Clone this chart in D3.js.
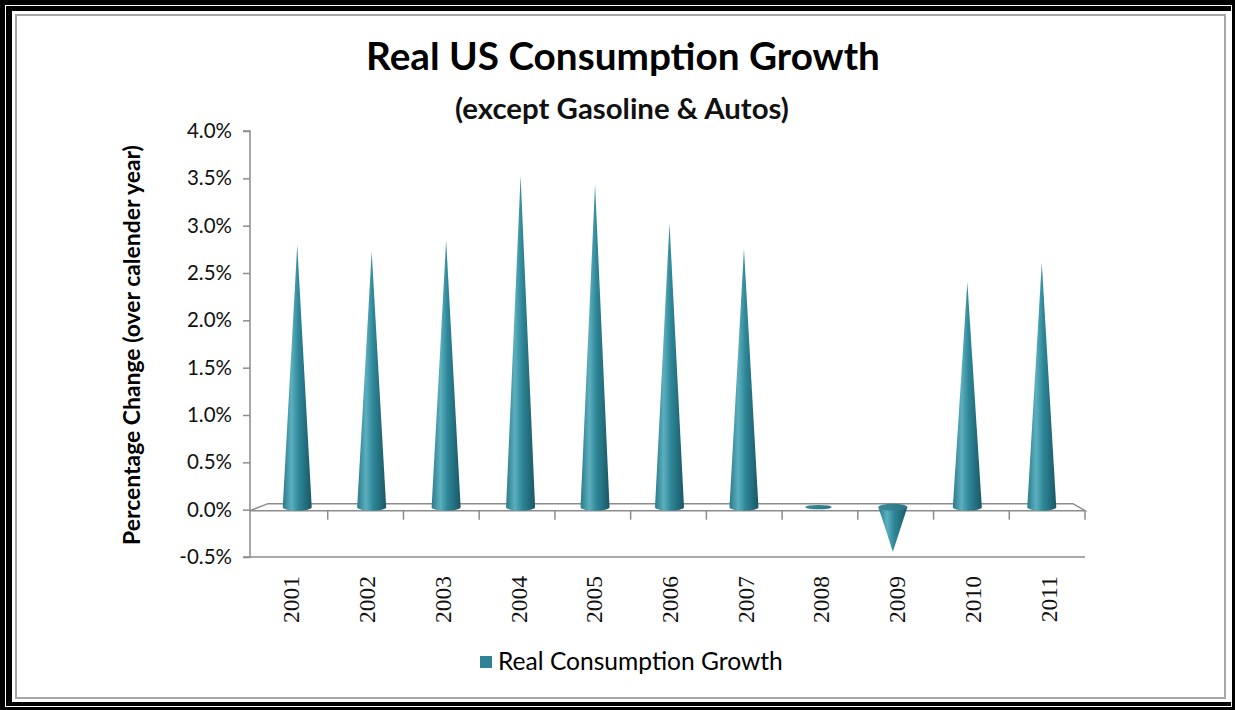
<!DOCTYPE html>
<html><head><meta charset="utf-8">
<script src="https://cdn.jsdelivr.net/npm/d3@7"></script>
<style>html,body{margin:0;padding:0;background:#fff;}svg{display:block;}</style>
</head><body>
<svg id="chart" width="1235" height="710"></svg>
<script>
const categories = ["2001","2002","2003","2004","2005","2006","2007","2008","2009","2010","2011"];
const values = [2.77, 2.7, 2.82, 3.5, 3.41, 3.0, 2.73, -0.02, -0.47, 2.38, 2.58];
const yTicks = [-0.5, 0, 0.5, 1, 1.5, 2, 2.5, 3, 3.5, 4];
const seriesName = "Real Consumption Growth";
const titleText = "Real US Consumption Growth";
const subtitleText = "(except Gasoline & Autos)";
const yTitleText = "Percentage Change (over calender year)";

const svg = d3.select("#chart");
const W = 1235, H = 710;

// frame
svg.append("rect").attr("width", W).attr("height", H).attr("fill", "#000");
svg.append("rect").attr("x", 5.5).attr("y", 5.5).attr("width", W - 9).attr("height", H - 9)
  .attr("fill", "none").attr("stroke", "#fff").attr("stroke-width", 1);
svg.append("rect").attr("x", 12).attr("y", 11).attr("width", 1219).attr("height", 691).attr("fill", "#fff");
svg.append("rect").attr("x", 16).attr("y", 15).attr("width", 1209).attr("height", 683)
  .attr("fill", "none").attr("stroke", "#a8a8a8").attr("stroke-width", 2);

// gradients
const defs = svg.append("defs");
const g1 = defs.append("linearGradient").attr("id", "coneGrad").attr("x1", "0").attr("x2", "1").attr("y1", "0").attr("y2", "0");
[[0, "#2a7b8a"], [0.3, "#5cafbe"], [0.55, "#2e8798"], [1, "#1a5765"]].forEach(([o, c]) =>
  g1.append("stop").attr("offset", o).attr("stop-color", c));
const g2 = defs.append("linearGradient").attr("id", "topGrad").attr("x1", "0").attr("x2", "1");
[[0, "#3a8c9b"], [1, "#2a7483"]].forEach(([o, c]) => g2.append("stop").attr("offset", o).attr("stop-color", c));

// scales
const x0 = 252, x1 = 1085;          // front floor edge
const depth = {dx: 16, dy: -7};      // back floor offset
const xFront = d3.scaleBand().domain(categories).range([x0, x1]);
const xBack = d3.scaleBand().domain(categories).range([x0 + depth.dx, x1 - 12]);
const y = d3.scaleLinear().domain([-0.5, 4]).range([557, 131]);
const axisColor = "#8c8c8c";

// y axis
const yAxisG = svg.append("g").attr("transform", `translate(${x0 - 2},0)`)
  .call(d3.axisLeft(y).tickValues(yTicks).tickSize(7).tickPadding(11).tickFormat(d => d.toFixed(1) + "%"));
yAxisG.select(".domain").attr("stroke", axisColor).attr("stroke-width", 1.5).attr("d", `M-7,${y(4)}H0V${y(-0.5)}H-7`);
yAxisG.selectAll(".tick line").attr("stroke", axisColor).attr("stroke-width", 1.5);
yAxisG.selectAll(".tick text").attr("font-family", "Lato, 'Open Sans', sans-serif").attr("font-size", 20.5).attr("fill", "#111");

// bottom line at -0.5
svg.append("line").attr("x1", x0 - 2).attr("x2", x1).attr("y1", y(-0.5)).attr("y2", y(-0.5))
  .attr("stroke", axisColor).attr("stroke-width", 1.5);

// floor at 0
const y0 = y(0) + 1;
svg.append("path")
  .attr("d", `M${x0 - 2},${y0}L${x0 + depth.dx},${y0 + depth.dy}L${x1 - 12},${y0 + depth.dy}L${x1},${y0}Z`)
  .attr("fill", "#fff").attr("stroke", axisColor).attr("stroke-width", 1.5);

// x ticks
const xAxisG = svg.append("g").attr("transform", `translate(0,${y0})`)
  .call(d3.axisBottom(xFront).tickSize(9).tickFormat(""));
xAxisG.select(".domain").remove();
xAxisG.selectAll(".tick").attr("transform", d => `translate(${xFront(d) + xFront.bandwidth()},0)`);
xAxisG.selectAll(".tick line").attr("stroke", axisColor).attr("stroke-width", 1.5);

// x labels
svg.append("g").selectAll("text").data(categories).join("text")
  .attr("transform", d => `translate(${xFront(d) + xFront.bandwidth() / 2 + 1},576) rotate(-90)`)
  .attr("text-anchor", "end").attr("dy", "0.36em")
  .attr("font-family", "'Liberation Serif', 'Times New Roman', serif").attr("font-size", 23.5).attr("fill", "#111")
  .text(d => d);

// cones
const rx = 14.5, ry = 3.5;
const coneX = d => ((xFront(d) + xFront.bandwidth() / 2) + (xBack(d) + xBack.bandwidth() / 2)) / 2;
const yMid = v => y(v) + 1 + depth.dy / 2;
const cones = svg.append("g");
categories.forEach((c, i) => {
  const v = values[i];
  const cx = coneX(c), base = yMid(0), tip = yMid(v);
  if (v >= 0) {
    cones.append("path")
      .attr("d", `M${cx - rx},${base}L${cx},${tip}L${cx + rx},${base}A${rx},${ry} 0 0 1 ${cx - rx},${base}Z`)
      .attr("fill", "url(#coneGrad)");
  } else {
    const small = (tip - base) < 4;
    const r = small ? rx - 1.5 : rx, rr = small ? 2.2 : ry;
    const t = Math.max(tip, base + 1.5);
    cones.append("path")
      .attr("d", `M${cx - r},${base}L${cx},${t}L${cx + r},${base}Z`)
      .attr("fill", "url(#coneGrad)");
    cones.append("ellipse").attr("cx", cx).attr("cy", base).attr("rx", r).attr("ry", rr)
      .attr("fill", "url(#topGrad)");
  }
});

// fit helper
function fit(sel, width) {
  const w = sel.node().getComputedTextLength();
  const fs = parseFloat(sel.attr("font-size"));
  sel.attr("font-size", fs * width / w);
}

// titles
const title = svg.append("text").attr("x", 623).attr("y", 70).attr("text-anchor", "middle")
  .attr("font-family", "Lato, 'Open Sans', sans-serif").attr("font-weight", "bold").attr("font-size", 34)
  .attr("fill", "#000").text(titleText);
fit(title, 514);
const sub = svg.append("text").attr("x", 622).attr("y", 119).attr("text-anchor", "middle")
  .attr("font-family", "Lato, 'Open Sans', sans-serif").attr("font-weight", "bold").attr("font-size", 22)
  .attr("fill", "#111").text(subtitleText);
fit(sub, 334);
const yt = svg.append("text").attr("transform", "translate(140,345) rotate(-90)").attr("text-anchor", "middle")
  .attr("font-family", "Lato, 'Open Sans', sans-serif").attr("font-weight", "bold").attr("font-size", 19)
  .attr("fill", "#000").text(yTitleText);
fit(yt, 400);

// legend
svg.append("rect").attr("x", 480).attr("y", 656).attr("width", 12).attr("height", 12).attr("fill", "#2e8494");
const lt = svg.append("text").attr("x", 498).attr("y", 670)
  .attr("font-family", "Lato, 'Open Sans', sans-serif").attr("font-size", 20).attr("fill", "#000").text(seriesName);
fit(lt, 285);
</script>
</body></html>
